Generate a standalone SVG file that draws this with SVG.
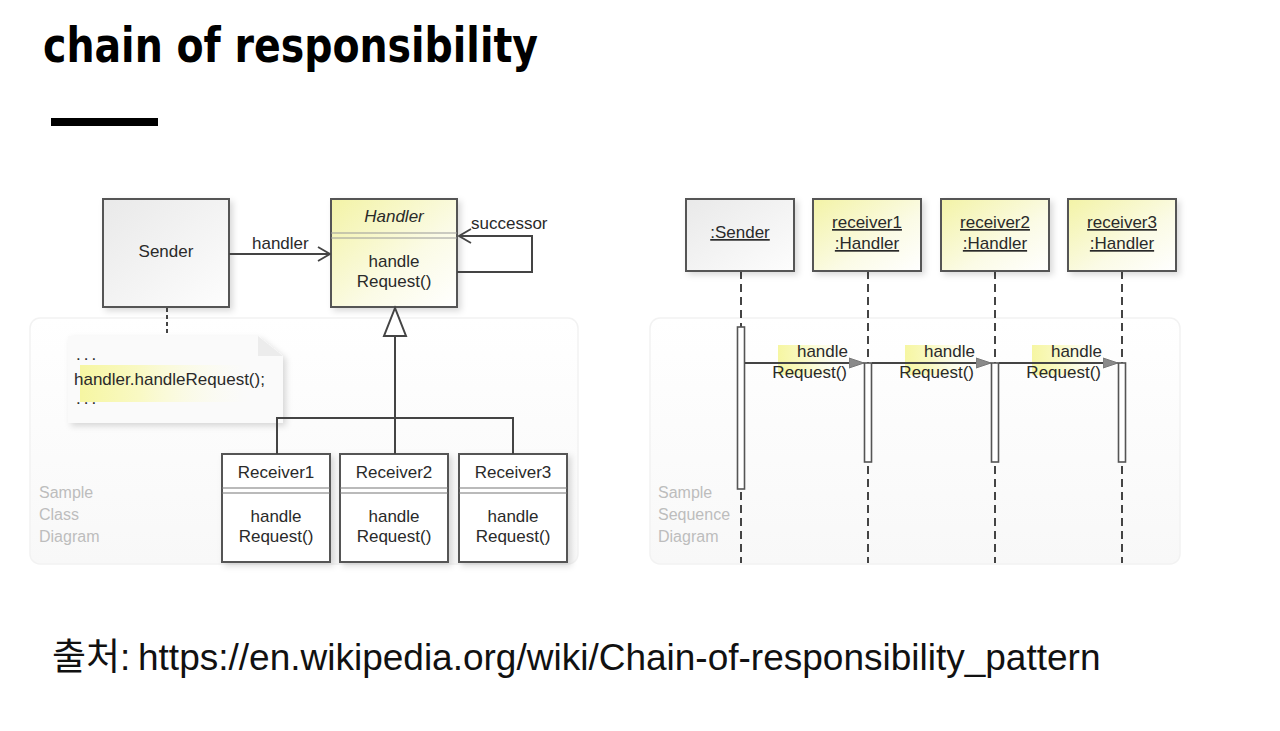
<svg xmlns="http://www.w3.org/2000/svg" width="1280" height="731" viewBox="0 0 1280 731">
<style>
.uml{font-family:"Liberation Sans",Arial,sans-serif;font-size:17px;fill:#2a2a2a}
.mid{text-anchor:middle}
.box{stroke:#555;stroke-width:2}
.line{stroke:#444;stroke-width:2;fill:none}
.life{stroke:#444;stroke-width:2;stroke-dasharray:8,5;fill:none}
.act{fill:#fff;stroke:#555;stroke-width:1.6}
.cap{font-family:"Liberation Sans",Arial,sans-serif;font-size:16px;fill:#bdbdbd}
.ul{text-decoration:underline}
</style>
<defs>
<linearGradient id="gGray" x1="0" y1="0" x2="1" y2="1">
<stop offset="0" stop-color="#e9e9e9"/><stop offset="1" stop-color="#fdfdfd"/>
</linearGradient>
<linearGradient id="gYel" x1="0" y1="0" x2="1" y2="1">
<stop offset="0" stop-color="#f3f3a6"/><stop offset="0.6" stop-color="#fbfbe6"/><stop offset="1" stop-color="#ffffff"/>
</linearGradient>
<linearGradient id="gHi" x1="0" y1="0" x2="1" y2="0">
<stop offset="0" stop-color="#f6f6a2"/><stop offset="0.35" stop-color="#f9f9c4"/><stop offset="1" stop-color="#fdfdf0" stop-opacity="0"/>
</linearGradient>
<linearGradient id="gPanel" x1="0" y1="0" x2="0" y2="1">
<stop offset="0" stop-color="#ffffff"/><stop offset="1" stop-color="#f8f8f8"/>
</linearGradient>
<filter id="sh" x="-10%" y="-10%" width="130%" height="130%">
<feDropShadow dx="3" dy="3" stdDeviation="3" flood-color="#000" flood-opacity="0.15"/>
</filter>
<marker id="open" viewBox="0 0 14 16" refX="13" refY="8" markerWidth="14" markerHeight="16" markerUnits="userSpaceOnUse" orient="auto">
<path d="M1,1 L13,8 L1,15" fill="none" stroke="#444" stroke-width="1.8"/>
</marker>
<marker id="fill" viewBox="0 0 16 12" refX="15" refY="6" markerWidth="16" markerHeight="12" markerUnits="userSpaceOnUse" orient="auto">
<path d="M0,1 L15,6 L0,11 Z" fill="#8a8a8a" stroke="#777" stroke-width="1"/>
</marker>
</defs>

<rect width="1280" height="731" fill="#ffffff"/>

<!-- Title -->
<g id="title">
<text x="43" y="62" font-family="'DejaVu Sans',sans-serif" font-weight="bold" font-size="48" fill="#000" textLength="495" lengthAdjust="spacingAndGlyphs">chain of responsibility</text>
<rect x="51" y="118" width="107" height="8" fill="#000"/>
</g>

<!-- Panels -->
<g id="class-panel">
<rect x="30" y="318" width="548" height="246" rx="10" fill="url(#gPanel)" stroke="#f2f2f2" stroke-width="1.5"/>
<text class="cap" x="39" y="498">Sample</text>
<text class="cap" x="39" y="520">Class</text>
<text class="cap" x="39" y="542">Diagram</text>
</g>
<g id="seq-panel">
<rect x="650" y="318" width="530" height="246" rx="10" fill="url(#gPanel)" stroke="#f2f2f2" stroke-width="1.5"/>
<text class="cap" x="658" y="498">Sample</text>
<text class="cap" x="658" y="520">Sequence</text>
<text class="cap" x="658" y="542">Diagram</text>
</g>

<!-- Class diagram nodes -->
<g id="note">
<polygon points="68,336 258,336 283,356 283,423 68,423" fill="#fafafa" filter="url(#sh)"/>
<polygon points="258,336 258,356 283,356" fill="#ececec"/>
<rect x="80" y="365" width="170" height="37" fill="url(#gHi)"/>
<text class="uml" x="76" y="360" letter-spacing="3" fill="#666">...</text>
<text class="uml" x="74" y="385" font-size="16">handler.handleRequest();</text>
<text class="uml" x="76" y="404" letter-spacing="3" fill="#666">...</text>
</g>

<g id="sender">
<rect class="box" x="103" y="199" width="126" height="108" fill="url(#gGray)" filter="url(#sh)"/>
<text class="uml mid" x="166" y="257" font-size="18">Sender</text>
</g>

<g id="handler">
<rect class="box" x="331" y="199" width="126" height="108" fill="url(#gYel)" filter="url(#sh)"/>
<line x1="331" y1="233" x2="457" y2="233" stroke="#999" stroke-width="1.2"/>
<line x1="331" y1="238" x2="457" y2="238" stroke="#999" stroke-width="1.2"/>
<text class="uml mid" x="394" y="222" font-style="italic">Handler</text>
<text class="uml mid" x="394" y="267">handle</text>
<text class="uml mid" x="394" y="287">Request()</text>
</g>

<g id="receiver1">
<rect class="box" x="222" y="454" width="108" height="108" fill="#fff" filter="url(#sh)"/>
<line x1="222" y1="488" x2="330" y2="488" stroke="#777" stroke-width="1.2"/>
<line x1="222" y1="493" x2="330" y2="493" stroke="#777" stroke-width="1.2"/>
<text class="uml mid" x="276" y="478">Receiver1</text>
<text class="uml mid" x="276" y="522">handle</text>
<text class="uml mid" x="276" y="542">Request()</text>
</g>
<g id="receiver2">
<rect class="box" x="340" y="454" width="108" height="108" fill="#fff" filter="url(#sh)"/>
<line x1="340" y1="488" x2="448" y2="488" stroke="#777" stroke-width="1.2"/>
<line x1="340" y1="493" x2="448" y2="493" stroke="#777" stroke-width="1.2"/>
<text class="uml mid" x="394" y="478">Receiver2</text>
<text class="uml mid" x="394" y="522">handle</text>
<text class="uml mid" x="394" y="542">Request()</text>
</g>
<g id="receiver3">
<rect class="box" x="459" y="454" width="108" height="108" fill="#fff" filter="url(#sh)"/>
<line x1="459" y1="488" x2="567" y2="488" stroke="#777" stroke-width="1.2"/>
<line x1="459" y1="493" x2="567" y2="493" stroke="#777" stroke-width="1.2"/>
<text class="uml mid" x="513" y="478">Receiver3</text>
<text class="uml mid" x="513" y="522">handle</text>
<text class="uml mid" x="513" y="542">Request()</text>
</g>

<!-- Sequence diagram nodes -->
<g id="seq-sender">
<line class="life" x1="741" y1="271" x2="741" y2="563"/>
<rect class="box" x="686" y="199" width="108" height="72" fill="url(#gGray)" filter="url(#sh)"/>
<text class="uml mid ul" x="740" y="238">:Sender</text>
<rect class="act" x="737.5" y="327" width="7" height="162"/>
</g>
<g id="seq-receiver1">
<line class="life" x1="868" y1="271" x2="868" y2="563"/>
<rect class="box" x="813" y="199" width="108" height="72" fill="url(#gYel)" filter="url(#sh)"/>
<text class="uml mid ul" x="867" y="228">receiver1</text>
<text class="uml mid ul" x="867" y="249">:Handler</text>
<rect class="act" x="864.5" y="363" width="7" height="99"/>
</g>
<g id="seq-receiver2">
<line class="life" x1="995" y1="271" x2="995" y2="563"/>
<rect class="box" x="941" y="199" width="108" height="72" fill="url(#gYel)" filter="url(#sh)"/>
<text class="uml mid ul" x="995" y="228">receiver2</text>
<text class="uml mid ul" x="995" y="249">:Handler</text>
<rect class="act" x="991.5" y="363" width="7" height="99"/>
</g>
<g id="seq-receiver3">
<line class="life" x1="1122" y1="271" x2="1122" y2="563"/>
<rect class="box" x="1068" y="199" width="108" height="72" fill="url(#gYel)" filter="url(#sh)"/>
<text class="uml mid ul" x="1122" y="228">receiver3</text>
<text class="uml mid ul" x="1122" y="249">:Handler</text>
<rect class="act" x="1118.5" y="363" width="7" height="99"/>
</g>

<!-- Connectors -->
<g id="connectors">
<line class="line" x1="167" y1="308" x2="167" y2="336" stroke="#999" stroke-dasharray="4,3" stroke-width="1.5"/>
<line class="line" x1="229" y1="254" x2="330" y2="254" marker-end="url(#open)"/>
<polyline class="line" points="457,272 532,272 532,236 459,236" marker-end="url(#open)"/>
<polygon points="395,308 384,336 406,336" fill="#fff" stroke="#444" stroke-width="2"/>
<line class="line" x1="395" y1="336" x2="395" y2="454"/>
<polyline class="line" points="277,454 277,418 513,418 513,454"/>
<!-- messages -->
<rect x="778" y="345" width="75" height="30" fill="url(#gHi)"/>
<rect x="905" y="345" width="75" height="30" fill="url(#gHi)"/>
<rect x="1032" y="345" width="75" height="30" fill="url(#gHi)"/>
<line class="line" x1="745" y1="363" x2="864" y2="363" stroke-width="1.6" marker-end="url(#fill)"/>
<line class="line" x1="872" y1="363" x2="991" y2="363" stroke-width="1.6" marker-end="url(#fill)"/>
<line class="line" x1="999" y1="363" x2="1118" y2="363" stroke-width="1.6" marker-end="url(#fill)"/>
</g>

<g id="labels">
<text class="uml" x="252" y="249" font-size="16">handler</text>
<text class="uml" x="471" y="229" font-size="16">successor</text>
<text class="uml" x="848" y="357" text-anchor="end" font-size="16">handle</text>
<text class="uml" x="847" y="378" text-anchor="end" font-size="16">Request()</text>
<text class="uml" x="975" y="357" text-anchor="end" font-size="16">handle</text>
<text class="uml" x="974" y="378" text-anchor="end" font-size="16">Request()</text>
<text class="uml" x="1102" y="357" text-anchor="end" font-size="16">handle</text>
<text class="uml" x="1101" y="378" text-anchor="end" font-size="16">Request()</text>
</g>

<!-- Footer -->
<g id="footer">
<text y="670" font-family="'Liberation Sans','Noto Sans CJK KR',Arial,sans-serif" font-size="37" fill="#111"><tspan x="52">출처:</tspan><tspan x="138">https://en.wikipedia.org/wiki/Chain-of-responsibility_pattern</tspan></text>
</g>
</svg>
